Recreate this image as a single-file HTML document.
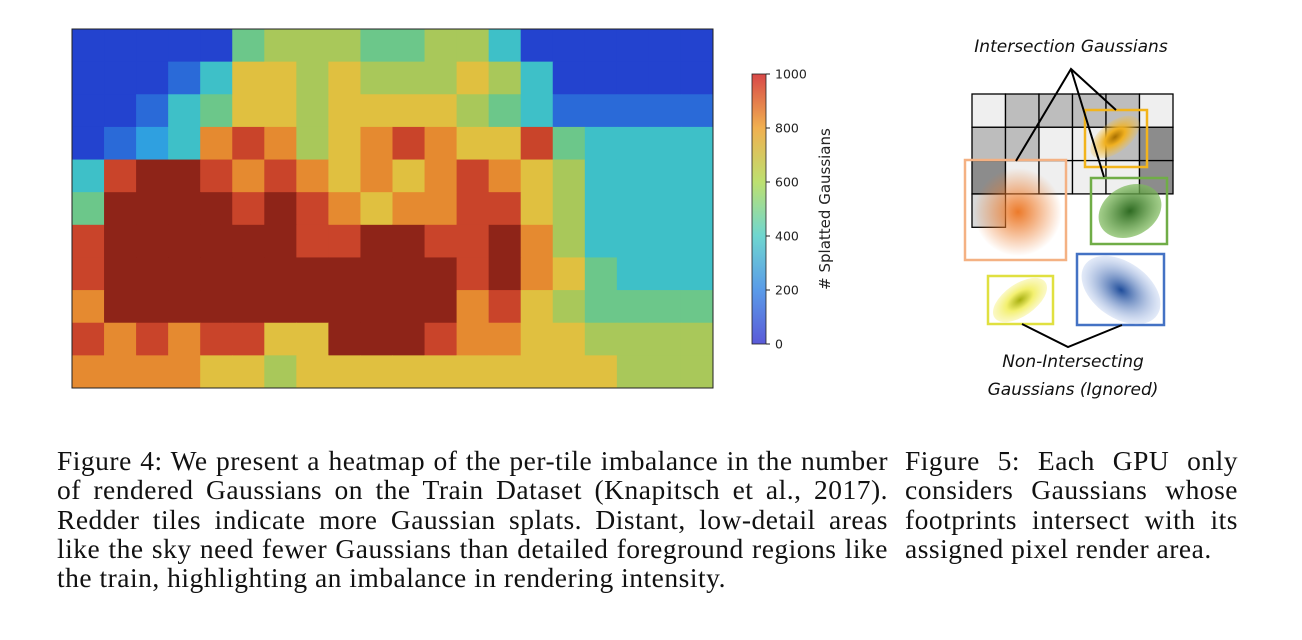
<!DOCTYPE html>
<html><head><meta charset="utf-8"><style>
body{margin:0;width:1302px;height:640px;background:#fff;overflow:hidden;position:relative;font-family:"Liberation Serif",serif}
.cap{position:absolute;font-size:27.5px;letter-spacing:0.5px;line-height:29.3px;color:#111}
.cap span{display:block;white-space:nowrap;text-align:justify;text-align-last:justify}
.cap span.last{text-align-last:left}
svg{position:absolute;left:0;top:0}
</style></head><body>
<svg width="1302" height="640" id="fig">
  <defs>
    <linearGradient id="cbar" x1="0" y1="1" x2="0" y2="0">
      <stop offset="0" stop-color="#5a5ad8"/><stop offset="0.2" stop-color="#5a9be8"/>
      <stop offset="0.4" stop-color="#6fd6d0"/><stop offset="0.6" stop-color="#bde070"/>
      <stop offset="0.8" stop-color="#f0b050"/><stop offset="1" stop-color="#d84848"/>
    </linearGradient>
    <radialGradient id="gOr"><stop offset="0" stop-color="#ec7a2a"/><stop offset="1" stop-color="#ec7a2a" stop-opacity="0"/></radialGradient>
    <radialGradient id="gYo"><stop offset="0" stop-color="#a87000"/><stop offset="0.4" stop-color="#f0b020"/><stop offset="1" stop-color="#f5c040" stop-opacity="0.2"/></radialGradient>
    <radialGradient id="gGr"><stop offset="0" stop-color="#2e6a22"/><stop offset="1" stop-color="#7dba5a" stop-opacity="0.7"/></radialGradient>
    <radialGradient id="gBl"><stop offset="0" stop-color="#1e4c9a"/><stop offset="1" stop-color="#b9cbee" stop-opacity="0.4"/></radialGradient>
    <radialGradient id="gYe"><stop offset="0" stop-color="#a8b010"/><stop offset="0.5" stop-color="#f3f070"/><stop offset="1" stop-color="#f8f4a0" stop-opacity="0.6"/></radialGradient>
  </defs>
  <g id="heat"></g>
  <rect x="72" y="29" width="641" height="359" fill="none" stroke="#222" stroke-width="1"/>
  <rect x="752" y="74" width="14" height="270" fill="url(#cbar)" stroke="#222" stroke-width="0.8"/>
  <g id="cticks" font-family="DejaVu Sans, sans-serif" font-size="12.5" fill="#222"></g>
  <text transform="translate(830,209) rotate(-90)" text-anchor="middle" font-family="DejaVu Sans, sans-serif" font-size="15" fill="#222"># Splatted Gaussians</text>

  <g id="tiles"></g>
  <rect x="965" y="160" width="101" height="100" fill="none" stroke="#f4b183" stroke-width="2.5"/>
  <circle cx="1018" cy="212" r="44" fill="url(#gOr)"/>
  <rect x="1085" y="110" width="62" height="57" fill="none" stroke="#f2b41c" stroke-width="2.5"/>
  <ellipse cx="1115" cy="137" rx="29" ry="15" transform="rotate(-38 1115 137)" fill="url(#gYo)"/>
  <rect x="1091" y="178" width="76" height="66" fill="none" stroke="#70ad47" stroke-width="2.5"/>
  <ellipse cx="1130" cy="211" rx="33" ry="25" transform="rotate(-28 1130 211)" fill="url(#gGr)"/>
  <rect x="1077" y="254" width="87" height="71" fill="none" stroke="#4472c4" stroke-width="2.5"/>
  <ellipse cx="1121" cy="290" rx="44" ry="28" transform="rotate(35 1121 290)" fill="url(#gBl)"/>
  <rect x="988" y="276" width="65" height="48" fill="none" stroke="#e0e040" stroke-width="2.5"/>
  <ellipse cx="1020" cy="300" rx="31" ry="16" transform="rotate(-35 1020 300)" fill="url(#gYe)"/>
  <g stroke="#000" stroke-width="2" fill="none">
    <polyline points="1016,161 1071,69 1116,110"/><line x1="1071" y1="69" x2="1104" y2="177"/>
    <polyline points="1022,324 1068,347 1122,325"/>
  </g>
  <g font-family="DejaVu Sans, sans-serif" font-style="italic" font-size="17" fill="#111" text-anchor="middle">
    <text x="1071" y="52">Intersection Gaussians</text>
    <text x="1073" y="367">Non-Intersecting</text>
    <text x="1073" y="395">Gaussians (Ignored)</text>
  </g>
</svg>
<div class="cap" style="left:57px;top:446px;width:831px"><span>Figure 4: We present a heatmap of the per-tile imbalance in the number</span><span>of rendered Gaussians on the Train Dataset (Knapitsch et al., 2017).</span><span>Redder tiles indicate more Gaussian splats. Distant, low-detail areas</span><span>like the sky need fewer Gaussians than detailed foreground regions like</span><span class="last">the train, highlighting an imbalance in rendering intensity.</span></div>
<div class="cap" style="left:905px;top:446px;width:333px"><span>Figure 5: Each GPU only</span><span>considers Gaussians whose</span><span>footprints intersect with its</span><span class="last">assigned pixel render area.</span></div>
<script>
const tileRows = [
"00000455544553000000",
"00013665655565300000",
"00134665666654311111",
"01237875678766843333",
"38998787676787653333",
"49999898767788653333",
"89999998899889753333",
"89999999999989764333",
"79999999999978654444",
"87878866999877665555",
"77776656666666666555"
];
const tickValues = [0,200,400,600,800,1000];
const vmax = 1000;
const palette = ["#2343cf","#2a6ad8","#2fa0e0","#3ec0c8","#6cc78a","#a9c85a","#e0c040","#e58a30","#c9442a","#8e2418"];
const NS="http://www.w3.org/2000/svg";
const X0=72,Y0=29,W=641,H=359;
const cols=tileRows[0].length, rows=tileRows.length;
const cw=W/cols, ch=H/rows;
function colorFor(v){const i=Math.max(0,Math.min(9,Math.round(v/vmax*9)));return palette[i];}
const heat=document.getElementById('heat');
tileRows.forEach((r,ri)=>{[...r].forEach((c,ci)=>{
  const v=(+c)*vmax/9;
  const e=document.createElementNS(NS,'rect');
  e.setAttribute('x',X0+ci*cw);e.setAttribute('y',Y0+ri*ch);
  e.setAttribute('width',cw+0.5);e.setAttribute('height',ch+0.5);
  e.setAttribute('fill',colorFor(v));
  
  
  heat.appendChild(e);
});});
const ct=document.getElementById('cticks');
function cy(v){return 344-v/vmax*270;}
tickValues.forEach(v=>{
  const l=document.createElementNS(NS,'line');
  l.setAttribute('x1',766);l.setAttribute('x2',770);l.setAttribute('y1',cy(v));l.setAttribute('y2',cy(v));l.setAttribute('stroke','#222');
  
  
  ct.appendChild(l);
  const t=document.createElementNS(NS,'text');
  t.setAttribute('x',775);t.setAttribute('y',cy(v)+4.5);t.textContent=v;
  
  
  ct.appendChild(t);
});
const grays=["LMMMML","MMLLMD","DLLLLD"];
const gc={L:"#efefef",M:"#bdbdbd",D:"#8c8c8c"};
const tg=document.getElementById('tiles');
function cell(x,y,f){const r=document.createElementNS(NS,'rect');
  r.setAttribute('x',x);r.setAttribute('y',y);r.setAttribute('width',33.5);r.setAttribute('height',33.3);
  r.setAttribute('fill',f);r.setAttribute('stroke','#000');r.setAttribute('stroke-width','1.3');
  
  
  tg.appendChild(r);}
grays.forEach((row,ri)=>[...row].forEach((g,ci)=>cell(972+ci*33.5,94+ri*33.3,gc[g])));
cell(972,194,"#d8d8d8");
</script>
</body></html>
